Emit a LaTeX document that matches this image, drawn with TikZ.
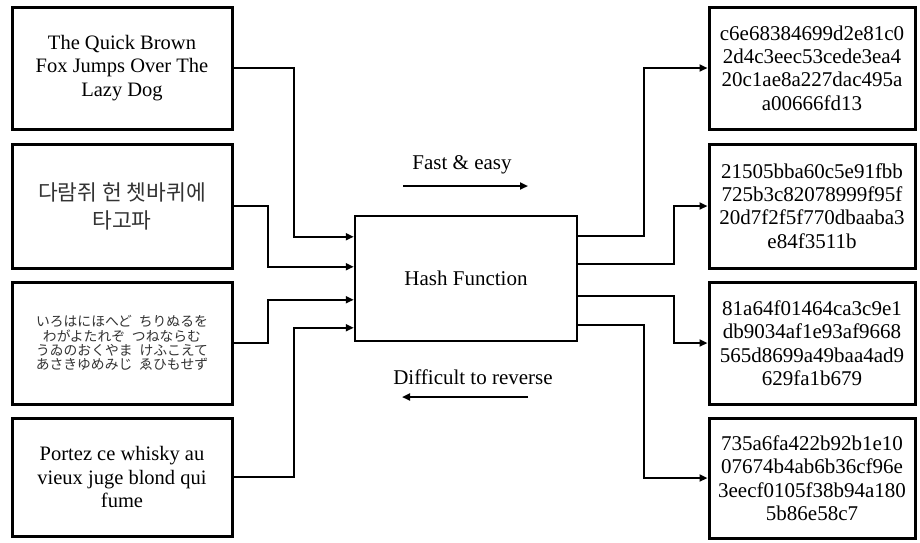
\documentclass[tikz,border=0pt]{standalone}
\usepackage{fontspec}
\setmainfont{Liberation Serif}
\newfontfamily\kofont{Noto Sans CJK KR}
\newfontfamily\jpfont{Noto Sans CJK JP}
\usetikzlibrary{arrows.meta}

\newcommand{\kgap}{\hspace{0.5em}}

\tikzset{
  textbox/.style={draw=black, line width=3pt, fill=white, align=center,
    inner sep=0pt, font=\fontsize{20.5}{23.5}\selectfont},
  hashbox/.style={textbox, font=\fontsize{21}{23.4}\selectfont,
    minimum width=206pt},
  inbox/.style={textbox, minimum width=220pt},
  conn/.style={line width=2pt, line join=miter},
  tip/.style={-{Triangle[length=8pt,width=7pt]}},
  caption/.style={font=\fontsize{21}{24}\selectfont, inner sep=0pt}
}

\begin{document}
\begin{tikzpicture}[x=1pt, y=-1pt]
  \useasboundingbox (0,0) rectangle (920,542);

  % messages
  \node[inbox, minimum height=122pt] (in1) at (122,68)
    {The Quick Brown\\Fox Jumps Over The\\Lazy Dog};
  \node[inbox, minimum height=124pt,
        font=\kofont\fontsize{21.5}{28}\selectfont, text=black!80] (in2) at (122,206)
    {다람쥐 헌 쳇바퀴에\\타고파};
  \node[inbox, minimum height=122pt,
        font=\jpfont\fontsize{13.8}{14.2}\selectfont, text=black!80] (in3) at (122,343)
    {いろはにほへど\kgap ちりぬるを\\わがよたれぞ\kgap つねならむ\\うゐのおくやま\kgap けふこえて\\あさきゆめみじ\kgap ゑひもせず};
  \node[inbox, minimum height=118pt] (in4) at (122,477)
    {Portez ce whisky au\\vieux juge blond qui\\fume};

  % digests
  \node[hashbox, minimum height=122pt] (out1) at (812,68)
    {c6e68384699d2e81c0\\2d4c3eec53cede3ea4\\20c1ae8a227dac495a\\a00666fd13};
  \node[hashbox, minimum height=124pt] (out2) at (812,206)
    {21505bba60c5e91fbb\\725b3c82078999f95f\\20d7f2f5f770dbaaba3\\e84f3511b};
  \node[hashbox, minimum height=122pt] (out3) at (812,343)
    {81a64f01464ca3c9e1\\db9034af1e93af9668\\565d8699a49baa4ad9\\629fa1b679};
  \node[hashbox, minimum height=120pt] (out4) at (812,478)
    {735a6fa422b92b1e10\\07674b4ab6b36cf96e\\3eecf0105f38b94a180\\5b86e58c7};

  % the hash function
  \node[draw=black, line width=2.5pt, minimum width=222pt, minimum height=125pt,
        inner sep=0pt, font=\fontsize{21}{24}\selectfont] (hash) at (466,278.5)
    {Hash Function};

  % ports on the hash box
  \path (hash.north west) ++(0,22) coordinate (hw1) ++(0,30) coordinate (hw2)
        ++(0,33) coordinate (hw3) ++(0,28) coordinate (hw4);
  \path (hash.north east) ++(0,21) coordinate (he1) ++(0,28) coordinate (he2)
        ++(0,32) coordinate (he3) ++(0,29) coordinate (he4);

  % inputs into the function
  \draw[conn, tip] (in1.east) -- ++(60,0) |- (hw1);
  \draw[conn, tip] (in2.east) -- ++(34,0) |- (hw2);
  \draw[conn, tip] (in3.east) -- ++(34,0) |- (hw3);
  \draw[conn, tip] (in4.east) -- ++(60,0) |- (hw4);

  % function to digests
  \draw[conn, tip] (he1) -- ++(66,0) |- (out1.west);
  \draw[conn, tip] (he2) -- ++(96,0) |- (out2.west);
  \draw[conn, tip] (he3) -- ++(96,0) |- (out3.west);
  \draw[conn, tip] (he4) -- ++(66,0) |- (out4.west);

  % direction captions
  \node[caption] (fast) at (462,165) {Fast \& easy};
  \node[caption] (hard) at (473,377) {Difficult to reverse};
  \coordinate (fastA) at (403,186);
  \coordinate (fastB) at (528,186);
  \coordinate (hardA) at (528,397);
  \coordinate (hardB) at (402,397);
  \draw[conn, tip] (fastA) -- (fastB);
  \draw[conn, tip] (hardA) -- (hardB);
\end{tikzpicture}
\end{document}
